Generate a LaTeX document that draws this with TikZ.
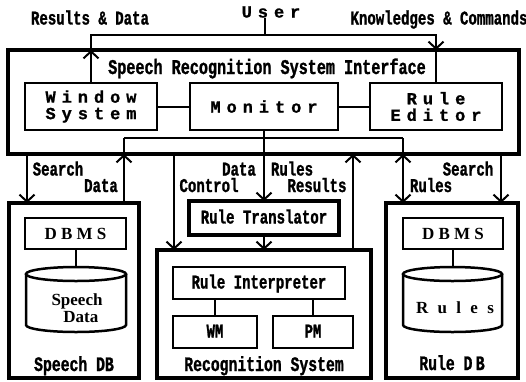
\documentclass[tikz,border=0pt]{standalone}
\usepackage{fontspec}
\usetikzlibrary{arrows.meta}
% condensed typewriter face for ordinary labels, spaced faces for headings
\newfontfamily\narrowtt{Liberation Mono}[FakeStretch=0.72,FakeBold=1.2]
\newfontfamily\widett{Liberation Mono}[LetterSpace=35,FakeBold=1]
\newfontfamily\spacedrm{Liberation Serif}[LetterSpace=25]
\newfontfamily\widerm{Liberation Serif}[LetterSpace=55]
\newfontfamily\plainrm{Liberation Serif}

\begin{document}
\begin{tikzpicture}[x=1pt,y=-1pt,
  every node/.style={inner sep=0pt,outer sep=0pt},
  heavybox/.style={draw,line width=4pt},
  lightbox/.style={draw,line width=2.5pt},
  link/.style={line width=2pt},
  >={Straight Barb[length=7pt,width=15pt]},
  lbl/.style={font=\narrowtt\bfseries\fontsize{19.5}{18}\selectfont,text height=11pt,text depth=0pt},
  biglbl/.style={font=\narrowtt\bfseries\fontsize{20.5}{22}\selectfont,text height=12pt,text depth=0pt},
  titlelbl/.style={font=\narrowtt\bfseries\fontsize{21}{22}\selectfont,text height=12pt,text depth=0pt},
  spaced/.style={font=\widett\bfseries\fontsize{17}{16.5}\selectfont,align=center},
  dbms/.style={font=\spacedrm\bfseries\fontsize{17}{17}\selectfont},
  cyltext/.style={font=\plainrm\bfseries\fontsize{17}{17}\selectfont},
]
\useasboundingbox (0,0) rectangle (526,381);

% ---------- user side ----------
\node[spaced] (user) at (271,12) {User};
\node[lbl] (resdata) at (90,19) {Results \& Data};
\node[lbl] (knowcmd) at (439,19) {Knowledges \& Commands};

% ---------- interface ----------
\node[heavybox,minimum width=511pt,minimum height=104pt] (iface) at (263.5,102) {};
\node[titlelbl] (title) at (267,68) {Speech Recognition System Interface};
\node[lightbox,spaced,minimum width=132pt,minimum height=47pt] (window) at (91,106.5) {Window\\System};
\node[lightbox,spaced,minimum width=148pt,minimum height=47pt] (monitor) at (264,106.5) {Monitor};
\node[lightbox,spaced,minimum width=132pt,minimum height=47pt] (editor) at (436,106.5) {Rule\\Editor};

\draw[link] (window) -- (monitor);
\draw[link] (monitor) -- (editor);

% user connection
\coordinate (ubus) at (265,35);
\draw[link] (ubus |- user.south) -- (ubus);
\draw[link,->] (window.north) -- (window.north |- iface.north);
\draw[link] (window.north |- iface.north) -- (window.north |- ubus) -- (editor.north |- ubus) -- (editor.north |- iface.north);
\draw[link,->] (editor.north |- ubus) -- (editor.north |- iface.north);
\draw[link] (editor.north |- iface.north) -- (editor.north);

% ---------- lower boxes ----------
\node[heavybox,minimum width=130pt,minimum height=175pt] (sdb) at (74,290.5) {};
\node[heavybox,minimum width=214pt,minimum height=128pt] (rec) at (264,314) {};
\node[heavybox,minimum width=132pt,minimum height=175pt] (rdb) at (452,290.5) {};
\node[heavybox,lbl,minimum width=150pt,minimum height=34pt] (trans) at (264,218) {Rule Translator};

% speech database
\node[lightbox,dbms,minimum width=101pt,minimum height=31pt] (sdbms) at (75.5,233.5) {DBMS};
\draw[lightbox] (76,274) ellipse[x radius=50,y radius=7];
\draw[lightbox] (26,274) -- (26,325) arc[start angle=180,end angle=0,x radius=50,y radius=7] -- (126,274);
\coordinate (scyl) at (76,267);
\draw[link] (sdbms.south -| scyl) -- (scyl);
\node[cyltext,align=left] (sdata) at (77,308) {Speech\\\hspace*{0.7em}Data};
\node[biglbl] (sdblbl) at (74,365) {Speech DB};

% rule database
\node[lightbox,dbms,minimum width=100pt,minimum height=31pt] (rdbms) at (453,233.5) {DBMS};
\draw[lightbox] (452.5,274) ellipse[x radius=49.5,y radius=7];
\draw[lightbox] (403,274) -- (403,325) arc[start angle=180,end angle=0,x radius=49.5,y radius=7] -- (502,274);
\coordinate (rcyl) at (453,267);
\draw[link] (rdbms.south -| rcyl) -- (rcyl);
\node[font=\widerm\bfseries\fontsize{17}{17}\selectfont] (rules) at (455,308) {Rules};
\node[biglbl] (rdblbl) at (452,364) {Rule D\,B};

% recognition system
\node[lightbox,lbl,minimum width=172pt,minimum height=32pt] (interp) at (259,283) {Rule Interpreter};
\node[lightbox,lbl,minimum width=84pt,minimum height=32pt] (wm) at (215,332) {WM};
\node[lightbox,lbl,minimum width=80pt,minimum height=32pt] (pm) at (313,332) {PM};
\draw[link] (wm.north |- interp.south) -- (wm.north);
\draw[link] (pm.north |- interp.south) -- (pm.north);
\node[biglbl] (reclbl) at (264,365) {Recognition System};

% ---------- connections below the interface ----------
\coordinate (busL) at (124,138);
\coordinate (busR) at (403,138);
\draw[link] (busL) -- (busR);

% speech database links
\coordinate (sx) at (27,0);
\draw[link,->] (iface.south -| sx) -- (sdb.north -| sx);
\draw[link,->] (sdb.north -| busL) -- (iface.south -| busL);
\draw[link] (iface.south -| busL) -- (busL);

% recognition links
\coordinate (cx) at (174,0);
\coordinate (rx) at (353,0);
\draw[link,->] (iface.south -| cx) -- (rec.north -| cx);
\draw[link,->] (monitor.south) -- (trans.north);
\draw[link,->] (trans.south) -- (rec.north -| trans.south);
\draw[link,->] (rec.north -| rx) -- (iface.south -| rx);

% rule database links
\coordinate (qx) at (501,0);
\draw[link] (busR) -- (iface.south -| busR);
\draw[link,<->] (iface.south -| busR) -- (rdb.north -| busR);
\draw[link,->] (iface.south -| qx) -- (rdb.north -| qx);

% link labels
\node[lbl] (l1) at (58,170) {Search};
\node[lbl] (l2) at (101,186.5) {Data};
\node[lbl] (l3) at (239,170) {Data};
\node[lbl] (l4) at (209,186.5) {Control};
\node[lbl] (l5) at (292,170) {Rules};
\node[lbl] (l6) at (317,186.5) {Results};
\node[lbl] (l7) at (468,170) {Search};
\node[lbl] (l8) at (431,186.5) {Rules};
\end{tikzpicture}
\end{document}
